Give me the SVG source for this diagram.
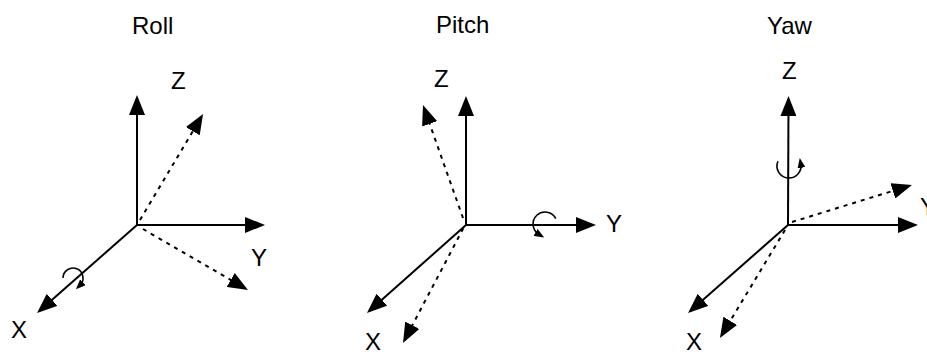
<svg xmlns="http://www.w3.org/2000/svg" width="927" height="352" viewBox="0 0 927 352">
<style>
  text { font-family: "Liberation Sans", Arial, sans-serif; font-size: 24px; fill: #000; }
  .ax { stroke: #000; stroke-width: 2; fill: none; marker-end: url(#head); }
  .dt { stroke: #000; stroke-width: 2; fill: none; stroke-dasharray: 4 5; marker-end: url(#head); }
  .rot { stroke: #000; stroke-width: 1.6; fill: none; marker-end: url(#small); }
</style>
<defs>
  <marker id="head" markerUnits="userSpaceOnUse" markerWidth="20" markerHeight="16" refX="17" refY="8" orient="auto">
    <path d="M0,0 L20,8 L0,16 z" fill="#000"/>
  </marker>
  <marker id="small" markerUnits="userSpaceOnUse" markerWidth="10" markerHeight="8" refX="4" refY="4" orient="auto">
    <path d="M0,0 L10,4 L0,8 z" fill="#000"/>
  </marker>
</defs>
<rect width="927" height="352" fill="#fff"/>

<g id="roll">
  <text x="132" y="34">Roll</text>
  <g id="roll-connectors">
    <line class="ax" x1="137" y1="225" x2="137" y2="98"/>
    <line class="ax" x1="137" y1="225" x2="262" y2="225"/>
    <line class="ax" x1="137" y1="225" x2="39.3" y2="311"/>
    <line class="dt" x1="140" y1="220" x2="201.5" y2="116.6"/>
    <line class="dt" x1="143" y1="229" x2="245.4" y2="288.5"/>
    <path class="rot" d="M63,278 A10,10 0 1 1 80.1,285.1"/>
  </g>
  <text x="171" y="89">Z</text>
  <text x="251" y="266">Y</text>
  <text x="11" y="338">X</text>
</g>

<g id="pitch">
  <text x="436" y="33">Pitch</text>
  <g id="pitch-connectors">
    <line class="ax" x1="466" y1="225" x2="466" y2="99"/>
    <line class="ax" x1="466" y1="225" x2="593" y2="225"/>
    <line class="ax" x1="466" y1="225" x2="369.2" y2="311"/>
    <line class="dt" x1="463" y1="218" x2="424" y2="107.8"/>
    <line class="dt" x1="463.3" y1="228.3" x2="404.4" y2="340.3"/>
    <path class="rot" d="M555.8,218.7 A12,12 0 1 0 539,234.4"/>
  </g>
  <text x="434" y="87">Z</text>
  <text x="606" y="232">Y</text>
  <text x="365" y="350">X</text>
</g>

<g id="yaw">
  <text x="767" y="34">Yaw</text>
  <g id="yaw-connectors">
    <line class="ax" x1="788" y1="225" x2="788.5" y2="99"/>
    <line class="ax" x1="788" y1="225" x2="915" y2="225"/>
    <line class="ax" x1="788" y1="225" x2="690.3" y2="311"/>
    <line class="dt" x1="792" y1="222" x2="909.1" y2="185.9"/>
    <line class="dt" x1="785" y1="230" x2="721.5" y2="335.4"/>
    <path class="rot" d="M777.95,161.3 A12,12 0 1 0 800.8,163.9"/>
  </g>
  <text x="782" y="79">Z</text>
  <text x="920" y="215">Y</text>
  <text x="686" y="350">X</text>
</g>
</svg>
